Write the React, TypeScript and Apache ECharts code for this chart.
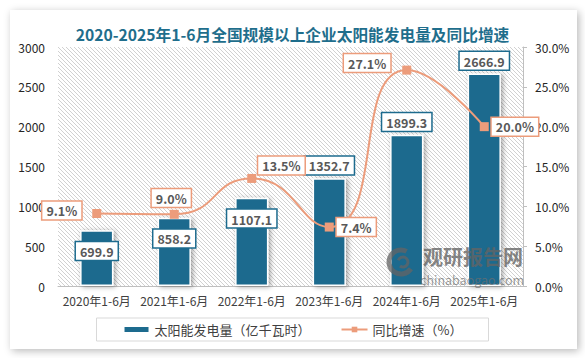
import React, { useEffect, useRef } from "react";
import * as echarts from "echarts";

const categories = ["2020年1-6月", "2021年1-6月", "2022年1-6月", "2023年1-6月", "2024年1-6月", "2025年1-6月"];
const generation = [699.9, 858.2, 1107.1, 1352.7, 1899.3, 2666.9];
const growth = [9.1, 9.0, 13.5, 7.4, 27.1, 20.0];
const barLabelPos = ["insideTop", "insideTop", "insideTop", "top", "top", "top"];
const lineLabelPos = ["left", "top", "right", "right", "left", "right"];
const lineLabelOffset = [[0, -3], [-3, 0], [-1, -13], [0, 0], [0, -7], [0, 0]];
const lineLabelDist = [11, 3, 3, 3, 12, 3];

const BAR = "#1d6b8e";
const LINE = "#ec9c7b";
const FONT = "'Noto Sans CJK SC', 'Noto Sans', sans-serif";

const GRID = { left: 58, right: 62, top: 47, bottom: 72 };
const W = 585;
const H = 358;

const hatchSvg =
  "<svg xmlns='http://www.w3.org/2000/svg' width='4' height='4'><path d='M-1,-1 L5,5 M3,-1 L5,1 M-1,3 L1,5' stroke='#cccccc' stroke-width='0.9' fill='none'/></svg>";
const hatchUrl = "url(\"data:image/svg+xml;charset=utf-8," + encodeURIComponent(hatchSvg) + "\")";

export default function App() {
  const ref = useRef<HTMLDivElement>(null);
  useEffect(() => {
    if (!ref.current) return;
    const chart = echarts.init(ref.current, null, { renderer: "svg" });
    const labelBase = {
      show: true,
      fontSize: 12.5,
      fontWeight: "bold",
      color: "#595959",
      fontFamily: FONT,
      backgroundColor: "#ffffff",
      borderWidth: 1.5,
      padding: [3, 4, 2, 4],
    };
    chart.setOption({
      animation: false,
      textStyle: { fontFamily: FONT },
      title: {
        text: "2020-2025年1-6月全国规模以上企业太阳能发电量及同比增速",
        left: "center",
        top: 22,
        textStyle: { fontSize: 15.7, fontWeight: "bold", color: "#1f6e8c", fontFamily: FONT },
      },
      grid: { ...GRID, show: false },
      legend: {
        top: 318,
        left: "center",
        padding: [5, 26],
        itemGap: 30,
        itemWidth: 26,
        itemHeight: 7,
        borderColor: "#d9d9d9",
        borderWidth: 1,
        backgroundColor: "#fff",
        textStyle: { fontSize: 13, color: "#404040", fontFamily: FONT },
        data: [
          { name: "太阳能发电量（亿千瓦时）", icon: "rect" },
          { name: "同比增速（%）" },
        ],
      },
      xAxis: {
        type: "category",
        data: categories,
        axisLine: { show: true, lineStyle: { color: "#bfbfbf", width: 1 } },
        axisTick: { show: false },
        axisLabel: { interval: 0, fontSize: 12, color: "#404040", margin: 8, fontFamily: FONT },
      },
      yAxis: [
        {
          type: "value",
          min: 0,
          max: 3000,
          interval: 500,
          axisLine: { show: false },
          axisTick: { show: false },
          splitLine: { show: false },
          axisLabel: {
            fontSize: 12,
            color: "#262626",
            margin: 13,
            fontFamily: FONT,
            formatter: (v: number) => String(v),
          },
        },
        {
          type: "value",
          min: 0,
          max: 30,
          interval: 5,
          position: "right",
          axisLine: { show: true, lineStyle: { color: "#bfbfbf", width: 1 } },
          axisTick: { show: true, inside: false, length: 4, lineStyle: { color: "#bfbfbf" } },
          splitLine: { show: false },
          axisLabel: {
            fontSize: 12,
            color: "#262626",
            margin: 12,
            fontFamily: FONT,
            formatter: (v: number) => v.toFixed(1) + "%",
          },
        },
      ],
      series: [
        {
          name: "太阳能发电量（亿千瓦时）",
          type: "bar",
          yAxisIndex: 0,
          barWidth: "43%",
          itemStyle: {
            color: BAR,
            borderColor: "#ffffff",
            borderWidth: 1.5,
            shadowBlur: 5,
            shadowColor: "rgba(0,0,0,0.35)",
            shadowOffsetX: 2,
            shadowOffsetY: 1,
          },
          data: generation.map((v, i) => ({
            value: v,
            label: {
              show: true,
              position: barLabelPos[i],
              distance: barLabelPos[i] === "top" ? 4 : 12,
            },
          })),
          label: {
            ...labelBase,
            borderColor: BAR,
            formatter: (p: any) => Number(p.value).toFixed(1),
          },
          z: 2,
        },
        {
          name: "同比增速（%）",
          type: "line",
          yAxisIndex: 1,
          smooth: 0.55,
          symbol: "rect",
          symbolSize: 9,
          lineStyle: { color: LINE, width: 2 },
          itemStyle: { color: LINE },
          data: growth.map((v, i) => ({
            value: v,
            label: {
              show: true,
              position: lineLabelPos[i],
              distance: lineLabelDist[i],
              offset: lineLabelOffset[i],
            },
          })),
          label: {
            ...labelBase,
            borderColor: LINE,
            formatter: (p: any) => Number(p.value).toFixed(1) + "%",
          },
          z: 3,
        },
      ],
      graphic: [
        {
          type: "arc",
          z: 100,
          silent: true,
          shape: { cx: 401, cy: 262, r: 12, startAngle: 0.6, endAngle: 5.2 },
          style: { stroke: "rgba(100,100,100,0.75)", lineWidth: 5, fill: "none" },
        },
        {
          type: "arc",
          z: 100,
          silent: true,
          shape: { cx: 403, cy: 262, r: 5, startAngle: 3.5, endAngle: 8.5 },
          style: { stroke: "rgba(100,100,100,0.75)", lineWidth: 3, fill: "none" },
        },
        {
          type: "text",
          z: 100,
          silent: true,
          x: 423,
          y: 246,
          style: {
            text: "观研报告网",
            fontSize: 20,
            lineHeight: 20,
            fontWeight: "bold",
            fill: "rgba(100,100,100,0.8)",
            fontFamily: FONT,
          },
        },
        {
          type: "text",
          z: 100,
          silent: true,
          x: 420,
          y: 273,
          style: {
            text: "chinabaogao.com",
            fontSize: 12.5,
            lineHeight: 12,
            fill: "rgba(110,110,110,0.7)",
            fontFamily: FONT,
          },
        },
      ],
    });
    return () => chart.dispose();
  }, []);

  return (
    <div style={{ position: "fixed", left: 0, top: 0, width: W, height: H, background: "#ffffff" }}>
      <div
        style={{
          position: "absolute",
          left: 10,
          top: 10,
          width: 567,
          height: 339,
          background: "#ffffff",
          boxShadow: "2px 2px 8px rgba(0,0,0,0.28)",
        }}
      />
      <div
        style={{
          position: "absolute",
          left: GRID.left,
          top: GRID.top,
          width: W - GRID.left - GRID.right,
          height: H - GRID.top - GRID.bottom,
          backgroundImage: hatchUrl,
          backgroundSize: "4px 4px",
          backgroundRepeat: "repeat",
        }}
      />
      <div ref={ref} style={{ position: "absolute", left: 0, top: 0, width: W, height: H }} />
    </div>
  );
}
